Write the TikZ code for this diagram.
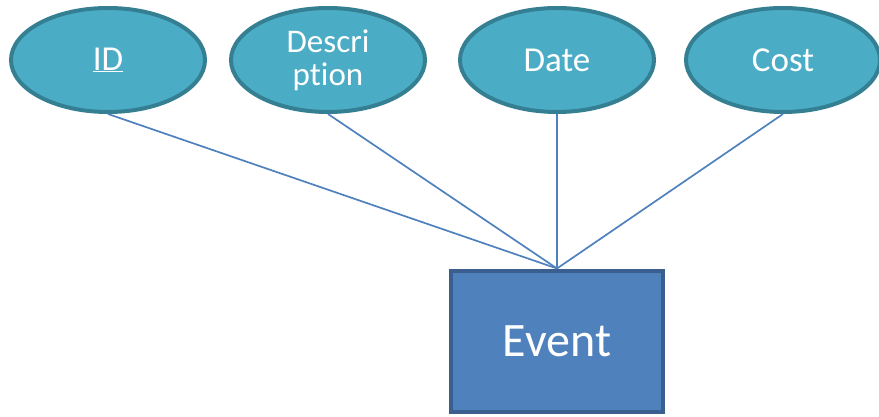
\documentclass[tikz,border=0pt]{standalone}
\usepackage{fontspec}
\setmainfont[RawFeature={-liga}]{Carlito}
\usetikzlibrary{shapes.geometric}
\definecolor{attrfill}{HTML}{4BACC6}
\definecolor{attrline}{HTML}{357F92}
\definecolor{entfill}{HTML}{4F81BD}
\definecolor{entline}{HTML}{3A5F8E}
\begin{document}
\begin{tikzpicture}[x=1pt,y=-1pt,
  attr/.style={ellipse, draw=attrline, fill=attrfill, line width=4pt,
    minimum width=194pt, minimum height=104pt, inner sep=0pt,
    text=white, font=\fontsize{35}{31}\selectfont, align=center},
  entity/.style={rectangle, draw=entline, fill=entfill, line width=4pt,
    minimum width=212pt, minimum height=141pt, inner sep=0pt,
    text=white, font=\fontsize{48}{50}\selectfont},
  link/.style={draw=entfill, line width=1.7pt}]
\useasboundingbox (0,0) rectangle (879,417);
\node[attr] (id) at (108,60) {\underline{ID}};
\node[attr, font=\fontsize{33}{33}\selectfont] (desc) at (328,60) {Descri\\ption};
\node[attr] (date) at (557,60) {Date};
\node[attr] (cost) at (783,60) {Cost};
\node[entity] (event) at (557,341) {Event};
\draw[link] (id.south) -- (event.north);
\draw[link] (desc.south) -- (event.north);
\draw[link] (date.south) -- (event.north);
\draw[link] (cost.south) -- (event.north);
\end{tikzpicture}
\end{document}
